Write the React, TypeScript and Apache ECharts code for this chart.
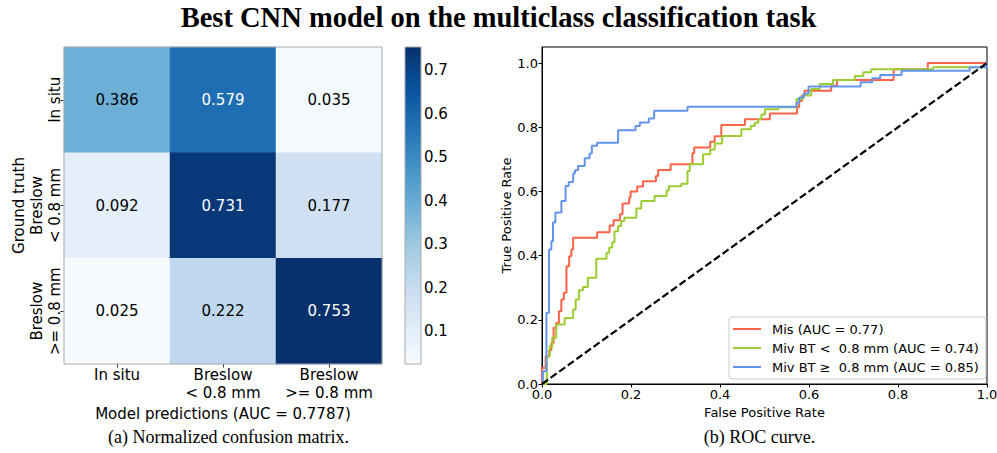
import React, { useEffect, useRef } from "react";
import * as echarts from "echarts";

// ---------- data ----------
const predictedLabels = ["In situ", "Breslow\n< 0.8 mm", "Breslow\n>= 0.8 mm"];
const trueLabels = ["In situ", "Breslow\n< 0.8 mm", "Breslow\n>= 0.8 mm"];
const rowInSitu = [0.386, 0.579, 0.035];
const rowBreslowThin = [0.092, 0.731, 0.177];
const rowBreslowThick = [0.025, 0.222, 0.753];
const confusionRows = [rowInSitu, rowBreslowThin, rowBreslowThick];
const colorbarTicks = [0.1, 0.2, 0.3, 0.4, 0.5, 0.6, 0.7];
const rocTicks = [0, 0.2, 0.4, 0.6, 0.8, 1.0];

const legendNames = [
  "Mis (AUC = 0.77)",
  "Miv BT <  0.8 mm (AUC = 0.74)",
  "Miv BT ≥  0.8 mm (AUC = 0.85)",
];

// ROC points: [fpr, tpr after the rise at that fpr]
const misRoc = [
  [0, 0], [0, 0.05], [0.008, 0.086], [0.016, 0.105], [0.021, 0.128], [0.026, 0.175],
  [0.032, 0.19], [0.038, 0.227], [0.0435, 0.263], [0.049, 0.284], [0.055, 0.367],
  [0.061, 0.398], [0.066, 0.419], [0.07, 0.456], [0.124, 0.473], [0.152, 0.494],
  [0.161, 0.51], [0.175, 0.529], [0.181, 0.562], [0.196, 0.581], [0.199, 0.6],
  [0.214, 0.615], [0.227, 0.632], [0.256, 0.648], [0.261, 0.667], [0.289, 0.685],
  [0.338, 0.719], [0.342, 0.737], [0.378, 0.755], [0.388, 0.772], [0.403, 0.807],
  [0.456, 0.825], [0.512, 0.843], [0.573, 0.862], [0.578, 0.882], [0.584, 0.899],
  [0.59, 0.914], [0.65, 0.929], [0.663, 0.947], [0.79, 0.981], [0.867, 1.0], [1.0, 1.0],
];
const mivThinRoc = [
  [0, 0], [0.011, 0.086], [0.0173, 0.117], [0.023, 0.144], [0.032, 0.185], [0.051, 0.206],
  [0.07, 0.232], [0.0757, 0.263], [0.083, 0.292], [0.092, 0.302], [0.103, 0.331],
  [0.122, 0.39], [0.145, 0.409], [0.151, 0.425], [0.158, 0.442], [0.163, 0.476],
  [0.171, 0.492], [0.178, 0.508], [0.185, 0.518], [0.212, 0.547], [0.223, 0.57],
  [0.253, 0.586], [0.28, 0.603], [0.285, 0.616], [0.313, 0.624], [0.327, 0.664],
  [0.332, 0.685], [0.362, 0.716], [0.378, 0.731], [0.388, 0.749], [0.405, 0.773],
  [0.448, 0.794], [0.469, 0.804], [0.478, 0.814], [0.486, 0.825], [0.493, 0.84],
  [0.501, 0.856], [0.531, 0.862], [0.572, 0.888], [0.587, 0.899], [0.605, 0.919],
  [0.624, 0.935], [0.654, 0.947], [0.703, 0.96], [0.722, 0.971], [0.74, 0.981],
  [0.879, 0.987], [1.0, 1.0],
];
const mivThickRoc = [
  [0, 0], [0.002, 0.04], [0.0099, 0.222], [0.0157, 0.419], [0.021, 0.445], [0.0247, 0.503],
  [0.03, 0.534], [0.0436, 0.57], [0.053, 0.617], [0.06, 0.629], [0.07, 0.656],
  [0.074, 0.666], [0.081, 0.679], [0.096, 0.703], [0.107, 0.718], [0.112, 0.742],
  [0.124, 0.752], [0.171, 0.791], [0.21, 0.804], [0.22, 0.815], [0.24, 0.827],
  [0.252, 0.851], [0.327, 0.864], [0.572, 0.877], [0.578, 0.893], [0.588, 0.905],
  [0.599, 0.927], [0.716, 0.94], [0.742, 0.953], [0.76, 0.963], [0.808, 0.976],
  [0.961, 0.987], [1.0, 1.0],
];
const chanceLine = [[0, 0], [1, 1]];

// ---------- styles ----------
const BLUES = ["#f7fbff", "#deebf7", "#c6dbef", "#9ecae1", "#6baed6", "#4292c6", "#2171b5", "#08519c", "#08306b"];
const CURVE_COLORS = ["#ff6347", "#9acd32", "#6495ed"];
const FONT = "DejaVu Sans";
const SERIF = "Liberation Serif";

export default function App() {
  const ref = useRef<HTMLDivElement>(null);
  useEffect(() => {
    if (!ref.current) return;
    const chart = echarts.init(ref.current, undefined, { renderer: "svg" });

    const flat = confusionRows.flat();
    const vmin = Math.min(...flat);
    const vmax = Math.max(...flat);
    const thresh = (vmin + vmax) / 2;
    const heatData: any[] = [];
    confusionRows.forEach((row, i) =>
      row.forEach((v, j) =>
        heatData.push({ value: [j, i, v], label: { color: v > thresh ? "#ffffff" : "#000000" } })
      )
    );

    const hm = { left: 64, top: 47, width: 318, height: 317 };
    const cb = { left: 405, top: 47, width: 16, height: 317 };
    const roc = { left: 542, top: 47, width: 445, height: 337 };

    const option: any = {
      animation: false,
      backgroundColor: "#ffffff",
      textStyle: { fontFamily: FONT },
      title: {
        text: "Best CNN model on the multiclass classification task",
        left: "center",
        top: -2,
        textStyle: { fontFamily: SERIF, fontWeight: "bold", fontSize: 28.5, color: "#000" },
      },
      grid: [
        { ...hm, outerBoundsMode: "none" },
        { ...cb, outerBoundsMode: "none" },
        { ...roc, outerBoundsMode: "none", show: true, borderColor: "#000", borderWidth: 1, backgroundColor: "transparent" },
      ],
      xAxis: [
        {
          gridIndex: 0, type: "category", data: predictedLabels, position: "bottom",
          axisLine: { show: false },
          axisTick: { show: true, alignWithLabel: true, length: 3.5, lineStyle: { color: "#333" } },
          axisLabel: { interval: 0, fontSize: 15, color: "#000", lineHeight: 18, margin: 2, fontFamily: FONT },
          name: "Model predictions (AUC = 0.7787)", nameLocation: "middle", nameGap: 31,
          nameTextStyle: { fontSize: 15, color: "#000", fontFamily: FONT },
          splitLine: { show: false },
        },
        { gridIndex: 1, type: "value", show: false, min: 0, max: 1 },
        {
          gridIndex: 2, type: "value", min: 0, max: 1, interval: 0.2,
          axisLine: { show: true, lineStyle: { color: "#000", width: 1 } },
          axisTick: { show: true, length: 3.5, lineStyle: { color: "#000" } },
          axisLabel: { fontSize: 13, color: "#000", margin: 4, formatter: (v: number) => v.toFixed(1) },
          splitLine: { show: false },
          name: "False Positive Rate", nameLocation: "middle", nameGap: 18,
          nameTextStyle: { fontSize: 13, color: "#000" },
        },
      ],
      yAxis: [
        {
          gridIndex: 0, type: "category", data: trueLabels, inverse: true,
          axisLine: { show: false },
          axisTick: { show: true, alignWithLabel: true, length: 3.5, lineStyle: { color: "#333" } },
          axisLabel: { interval: 0, fontSize: 15, color: "#000", lineHeight: 17.7, rotate: 90, margin: 0, fontFamily: FONT },
          name: "Ground truth", nameLocation: "middle", nameGap: 38, nameRotate: 90,
          nameTextStyle: { fontSize: 15, color: "#000", fontFamily: FONT },
          splitLine: { show: false },
        },
        {
          gridIndex: 1, type: "value", min: vmin, max: vmax, position: "right",
          axisLine: { show: false },
          axisTick: { show: true, length: 2, customValues: colorbarTicks, lineStyle: { color: "#333" } },
          axisLabel: { fontSize: 15, color: "#000", margin: 3, customValues: colorbarTicks, formatter: (v: number) => v.toFixed(1) },
          splitLine: { show: false },
        },
        {
          gridIndex: 2, type: "value", min: 0, max: 1.05,
          axisLine: { show: true, lineStyle: { color: "#000", width: 1 } },
          axisTick: { show: true, length: 3.5, customValues: rocTicks, lineStyle: { color: "#000" } },
          axisLabel: { fontSize: 13, color: "#000", margin: 4, customValues: rocTicks, formatter: (v: number) => v.toFixed(1) },
          splitLine: { show: false },
          name: "True Positive Rate", nameLocation: "middle", nameGap: 25,
          nameTextStyle: { fontSize: 13, color: "#000" },
        },
      ],
      visualMap: {
        type: "continuous", show: false, seriesIndex: 0, dimension: 2,
        min: vmin, max: vmax, inRange: { color: BLUES },
      },
      legend: {
        data: legendNames,
        orient: "vertical",
        left: 729, top: 317,
        padding: [5, 7, 5, 4],
        itemGap: 5,
        itemWidth: 28, itemHeight: 2,
        icon: "rect",
        textStyle: { fontSize: 13, color: "#000", lineHeight: 14, padding: [0, 0, 0, 6] },
        borderColor: "#cccccc", borderWidth: 1, borderRadius: 3,
        backgroundColor: "rgba(255,255,255,0.8)",
      },
      series: [
        {
          type: "heatmap", xAxisIndex: 0, yAxisIndex: 0, data: heatData,
          label: { show: true, fontSize: 15, fontFamily: FONT, formatter: (p: any) => p.value[2].toFixed(3) },
          emphasis: { disabled: true },
        },
        ...[misRoc, mivThinRoc, mivThickRoc].map((d, k) => ({
          type: "line", name: legendNames[k], xAxisIndex: 2, yAxisIndex: 2, data: d,
          step: "end", showSymbol: false, symbol: "none",
          lineStyle: { width: 2, color: CURVE_COLORS[k] }, itemStyle: { color: CURVE_COLORS[k] },
          z: 3,
        })),
        {
          type: "line", name: "chance", xAxisIndex: 2, yAxisIndex: 2, data: chanceLine,
          showSymbol: false, symbol: "none", silent: true,
          lineStyle: { width: 2.2, color: "#000", type: [7.4, 3.2] }, z: 4,
        },
      ],
      graphic: [
        {
          type: "rect", z: 100, silent: true,
          shape: { x: hm.left, y: hm.top, width: hm.width, height: hm.height },
          style: { fill: "none", stroke: "#aaaaaa", lineWidth: 1 },
        },
        {
          type: "rect", z: 100, silent: true,
          shape: { x: cb.left, y: cb.top, width: cb.width, height: cb.height },
          style: {
            fill: new echarts.graphic.LinearGradient(0, 1, 0, 0,
              BLUES.map((c, i) => ({ offset: i / (BLUES.length - 1), color: c }))),
            stroke: "#aaaaaa", lineWidth: 1,
          },
        },
        {
          type: "text", z: 100, x: 228.5, y: 437,
          style: { text: "(a) Normalized confusion matrix.", font: `18px "${SERIF}"`, fill: "#000", textAlign: "center", textVerticalAlign: "middle" },
        },
        {
          type: "text", z: 100, x: 759.5, y: 437,
          style: { text: "(b) ROC curve.", font: `18px "${SERIF}"`, fill: "#000", textAlign: "center", textVerticalAlign: "middle" },
        },
      ],
    };
    chart.setOption(option);
    return () => chart.dispose();
  }, []);
  return <div ref={ref} style={{ position: "fixed", left: 0, top: 0, width: 997, height: 453 }} />;
}
